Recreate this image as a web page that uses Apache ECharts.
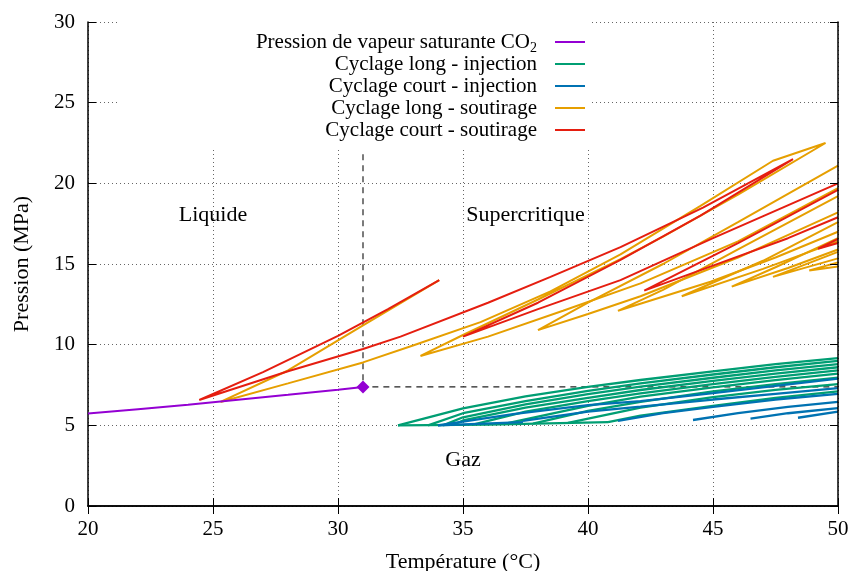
<!DOCTYPE html>
<html>
<head>
<meta charset="utf-8">
<script src="https://cdn.jsdelivr.net/npm/echarts@6/dist/echarts.min.js"></script>
<style>
  html, body { margin: 0; padding: 0; background: #fff; }
  #chart { width: 848px; height: 571px; }
</style>
</head>
<body>
<div id="chart"></div>
<script>
// axes
var xMin = 20, xMax = 50, xStep = 5;
var yMin = 0, yMax = 30, yStep = 5;

// pression de vapeur saturante du CO2 et point critique
var saturation = [[20, 5.73], [22, 6.0], [24, 6.27], [26, 6.59], [28, 6.89], [30, 7.21], [31, 7.38]];
var criticalPoint = [[31, 7.38]];
var criticalGuide = [[31, 21.8], [31, 7.38], [50, 7.38]];

// cyclage long - injection (vert)
var longInjection = [
  [[32.4, 5.0], [35, 6.05], [37.5, 6.8], [40, 7.38], [42.1, 7.81], [45, 8.35], [47.5, 8.8], [50, 9.17]],
  [[33.6, 5.0], [35, 5.75], [37.5, 6.5], [40, 7.13], [42.1, 7.6], [45, 8.15], [47.5, 8.6], [50, 9.0]],
  [[34.2, 5.0], [35, 5.5], [37.5, 6.3], [40, 6.94], [42.1, 7.4], [45, 7.95], [47.5, 8.4], [50, 8.8]],
  [[34.6, 5.02], [35, 5.3], [37.5, 6.1], [40, 6.7], [42.1, 7.19], [45, 7.75], [47.5, 8.2], [50, 8.6]],
  [[35.4, 5.05], [37.5, 5.85], [40, 6.5], [42.1, 6.98], [45, 7.55], [47.5, 8.0], [50, 8.4]],
  [[36.6, 5.08], [40, 6.2], [42.1, 6.78], [45, 7.35], [47.5, 7.8], [50, 8.2]],
  [[37.8, 5.1], [40, 5.9], [42.1, 6.45], [45, 7.1], [47.5, 7.55], [50, 7.95]],
  [[39.2, 5.15], [42.1, 6.1], [45, 6.75], [47.5, 7.2], [50, 7.55]],
  [[40.8, 5.2], [42.1, 5.6], [45, 6.2], [47.5, 6.7], [50, 7.1]],
  [[32.4, 5.0], [36, 5.05], [40.8, 5.2]]
];

// cyclage court - injection (bleu)
var shortInjection = [
  [[34.0, 5.0], [37, 5.7], [40, 6.25], [42.1, 6.5], [45, 7.0], [47.5, 7.45], [50, 7.9]],
  [[34.0, 5.0], [37.4, 5.2]],
  [[37.4, 5.27], [40, 5.85], [42.1, 6.16], [45, 6.6], [47.5, 6.95], [50, 7.3]],
  [[41.2, 5.27], [43, 5.75], [45, 6.15], [47.5, 6.6], [50, 6.95]],
  [[44.2, 5.33], [46, 5.75], [48, 6.15], [50, 6.45]],
  [[46.5, 5.42], [48, 5.75], [50, 6.07]],
  [[48.4, 5.47], [50, 5.85]]
];

// cyclage long - soutirage (orange)
var longWithdrawal = [
  [[34.05, 14.0], [31, 11.2], [28, 8.4], [25.3, 6.45], [28, 7.6], [31, 8.9], [33, 9.95], [35.7, 11.4],
   [38.5, 13.3], [41.3, 15.6], [44.5, 18.6], [47.4, 21.4], [49.5, 22.5], [46, 19.3], [43, 16.7],
   [41.3, 15.3], [38, 12.8], [35, 10.6], [33.3, 9.3], [36, 10.5], [39, 12.1], [42.1, 13.8], [46, 16.4], [50, 19.7]],
  [[50, 21.1], [46, 17.6], [43, 15.0], [40, 12.6], [38, 10.9], [40, 11.9], [42.1, 13.0], [46, 15.4], [50, 18.2]],
  [[50, 19.2], [46, 15.9], [43, 13.4], [41.2, 12.1], [44.9, 13.9], [47.5, 15.4], [50, 17.0]],
  [[50, 17.6], [47, 15.2], [43.75, 13.0], [47, 14.7], [50, 16.4]],
  [[50, 16.6], [47.5, 14.8], [45.75, 13.6], [48, 14.75], [50, 15.9]],
  [[50, 15.75], [47.4, 14.2], [50, 15.35]],
  [[50, 15.1], [48.85, 14.6], [50, 14.85]]
];

// cyclage court - soutirage (rouge)
var shortWithdrawal = [
  [[34.05, 14.0], [32, 12.2], [30, 10.55], [27, 8.3], [24.45, 6.57], [28, 8.35], [31, 9.73], [32.5, 10.5],
   [36, 12.6], [38.5, 14.2], [41.3, 16.05], [44.6, 18.5], [48.2, 21.5], [44.5, 18.0], [41.3, 15.25],
   [38, 12.6], [35, 10.5], [38, 12.2], [41.3, 14.0], [45, 16.6], [50, 20.0]],
  [[50, 19.6], [46, 16.3], [42.25, 13.35], [45, 14.9], [48, 16.6], [50, 17.9]],
  [[50, 16.55], [49.2, 15.95], [50, 16.3]]
];

// zones
var regionLabels = [[25, 18, 'Liquide'], [37.5, 18, 'Supercritique'], [35, 2.85, 'Gaz']];

var satName = 'Pression de vapeur saturante CO2';
var names = [satName, 'Cyclage long - injection', 'Cyclage court - injection',
             'Cyclage long - soutirage', 'Cyclage court - soutirage'];
var colors = ['#9400d3', '#009e73', '#0072b2', '#e69f00', '#e51e10'];

var serif = 'Liberation Serif';

function lineSeries(name, color, list, width) {
  return list.map(function (pts) {
    return {
      name: name, type: 'line', data: pts,
      symbol: 'none', showSymbol: false, silent: true,
      lineStyle: { color: color, width: width || 2 }, itemStyle: { color: color },
      z: 3
    };
  });
}

var series = [];
series = series.concat(lineSeries(names[1], colors[1], longInjection, 2.3));
series = series.concat(lineSeries(names[2], colors[2], shortInjection, 2.3));
series = series.concat(lineSeries(names[3], colors[3], longWithdrawal));
series = series.concat(lineSeries(names[4], colors[4], shortWithdrawal));
series.push({
  name: 'guide', type: 'line', data: criticalGuide, symbol: 'none', silent: true,
  lineStyle: { color: '#222', width: 1.2, type: [6, 5] }, z: 2
});
series = series.concat(lineSeries(names[0], colors[0], [saturation]));
series.push({
  name: names[0], type: 'scatter', data: criticalPoint, symbol: 'diamond', symbolSize: 13,
  itemStyle: { color: colors[0], opacity: 1 }, silent: true, z: 4
});
series.push({
  name: 'zones', type: 'scatter', data: regionLabels, symbolSize: 0, silent: true,
  itemStyle: { opacity: 1 },
  label: {
    show: true, position: 'inside', formatter: function (p) { return p.value[2]; },
    fontFamily: serif, fontSize: 22, color: '#000', opacity: 1
  }
});

var chart = echarts.init(document.getElementById('chart'));
chart.setOption({
  animation: false,
  backgroundColor: '#fff',
  grid: { left: 88, right: 10, top: 22, bottom: 65, outerBoundsMode: 'none', containLabel: false },
  legend: {
    data: names,
    orient: 'vertical', align: 'right',
    right: 258, top: 22,
    padding: [7, 5, 4, 138],
    backgroundColor: '#fff',
    itemGap: -4, itemWidth: 30, itemHeight: 2, icon: 'rect',
    selectedMode: false,
    formatter: function (name) {
      return name === satName ? 'Pression de vapeur saturante CO{sub|2}' : name;
    },
    textStyle: {
      fontFamily: serif, fontSize: 21, color: '#000', lineHeight: 26,
      padding: [0, 13, 0, 0],
      rich: { sub: { fontFamily: serif, fontSize: 14, color: '#000', verticalAlign: 'bottom', lineHeight: 10 } }
    }
  },
  xAxis: [{
    type: 'value', min: xMin, max: xMax, interval: xStep,
    name: 'Température (°C)', nameLocation: 'middle', nameGap: 45,
    nameTextStyle: { fontFamily: serif, fontSize: 22, color: '#000' },
    axisLine: { lineStyle: { color: '#000', width: 1.5 } },
    axisTick: { inside: true, length: 8, lineStyle: { color: '#000' } },
    axisLabel: { fontFamily: serif, fontSize: 21, color: '#000', margin: 13 },
    splitLine: { lineStyle: { color: '#666', type: [1, 3], width: 1 } }
  }, {
    type: 'value', position: 'top', min: xMin, max: xMax, interval: xStep, z: 10,
    axisLine: { lineStyle: { color: '#000', width: 1.5 } },
    axisTick: { inside: true, length: 8, lineStyle: { color: '#000' } },
    axisLabel: { show: false }, splitLine: { show: false }
  }],
  yAxis: [{
    type: 'value', min: yMin, max: yMax, interval: yStep,
    name: 'Pression (MPa)', nameLocation: 'middle', nameGap: 55,
    nameTextStyle: { fontFamily: serif, fontSize: 22, color: '#000' },
    axisLine: { show: true, lineStyle: { color: '#000', width: 1.5 } },
    axisTick: { show: true, inside: true, length: 8, lineStyle: { color: '#000' } },
    axisLabel: { fontFamily: serif, fontSize: 21, color: '#000', margin: 13 },
    splitLine: { lineStyle: { color: '#666', type: [1, 3], width: 1 } }
  }, {
    type: 'value', position: 'right', min: yMin, max: yMax, interval: yStep, z: 10,
    axisLine: { show: true, lineStyle: { color: '#000', width: 1.5 } },
    axisTick: { show: true, inside: true, length: 8, lineStyle: { color: '#000' } },
    axisLabel: { show: false }, splitLine: { show: false }
  }],
  series: series
});
</script>
</body>
</html>
